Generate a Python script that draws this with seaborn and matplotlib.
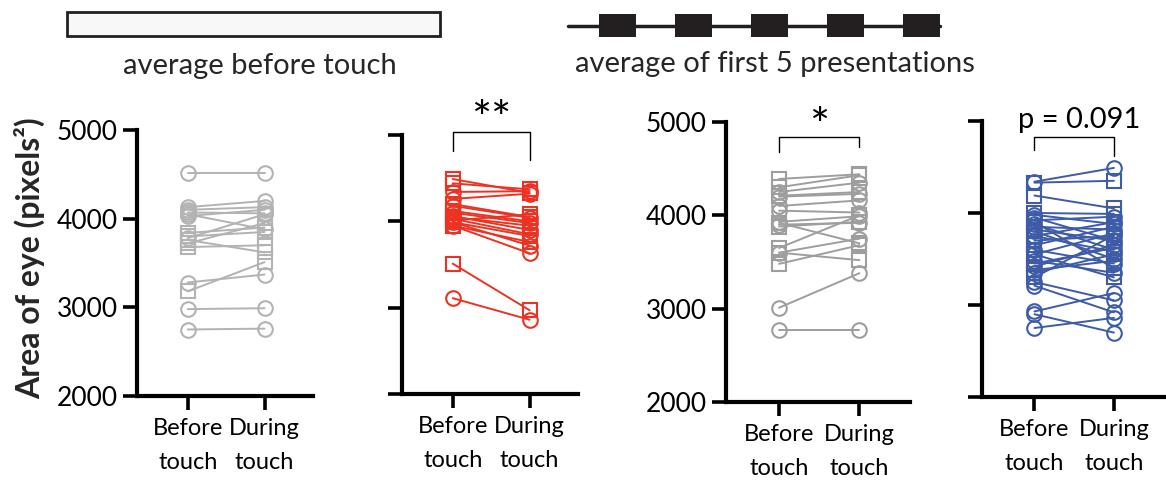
import numpy as np
import pandas as pd
import matplotlib
matplotlib.use("Agg")
import matplotlib.pyplot as plt
from matplotlib.patches import Rectangle
from matplotlib import font_manager
import seaborn as sns

sns.set_style("white")
plt.rcParams['font.family'] = ['Lato', 'DejaVu Sans']

installed = {f.name for f in font_manager.fontManager.ttflist}
narrow = 'Liberation Sans Narrow' in installed

# ---------------- data (before, during) ----------------
conditions = ["Before\ntouch", "During\ntouch"]
y_ticks = [2000, 3000, 4000, 5000]

p1_circle_before = [4510, 4130, 4100, 4070, 4050, 4030, 3780, 3280, 2980, 2750]
p1_circle_during = [4510, 4200, 4130, 4060, 3880, 4100, 4050, 3370, 2990, 2760]
p1_square_before = [3840, 3800, 3760, 3720, 3680, 3180]
p1_square_during = [3900, 3850, 3620, 3950, 3700, 3510]

p2_circle_before = [4340, 4260, 4180, 4100, 4060, 4030, 3990, 3950, 3110]
p2_circle_during = [4350, 4320, 4040, 3980, 3900, 3850, 3720, 3630, 2860]
p2_square_before = [4490, 4440, 4200, 4120, 4050, 3990, 3950, 4010, 3510]
p2_square_during = [4330, 4370, 4050, 4000, 3950, 3830, 3760, 4080, 2970]

p3_circle_before = [4250, 4200, 4100, 4050, 3930, 3900, 3600, 3010, 2770]
p3_circle_during = [4350, 4230, 4160, 4030, 3990, 3920, 3750, 3380, 2770]
p3_square_before = [4390, 4300, 4210, 3920, 3880, 3650, 3600, 3480]
p3_square_during = [4440, 4430, 4250, 3700, 3930, 4000, 3520, 3680]

p4_circle_before = [4340, 3980, 3950, 3920, 3880, 3850, 3800, 3750, 3700, 3600,
                    3550, 3480, 3420, 3350, 3250, 3210, 2930, 2900, 2750]
p4_circle_during = [4490, 3880, 3700, 3960, 3600, 3820, 3500, 3900, 3750, 3450,
                    3780, 3350, 3650, 3550, 3050, 2920, 3130, 2700, 2860]
p4_square_before = [4330, 4190, 4000, 3900, 3820, 3750, 3650, 3550, 3450, 3380, 3300]
p4_square_during = [4350, 4050, 3990, 3400, 3700, 3580, 3850, 3300, 3620, 3480, 3760]

panel_colors = ["#b3b3b3", "#ec3323", "#9e9e9e", "#3d5ba6"]
sig_labels = [None, "**", "*", "p = 0.091"]


def make_df(cb, cd, sb, sd):
    rows = []
    sid = 0
    for shape, b, d in (("circle", cb, cd), ("square", sb, sd)):
        for vb, vd in zip(b, d):
            rows.append((sid, shape, 0, vb))
            rows.append((sid, shape, 1, vd))
            sid += 1
    return pd.DataFrame(rows, columns=["subject", "shape", "cond", "area"])


dfs = [
    make_df(p1_circle_before, p1_circle_during, p1_square_before, p1_square_during),
    make_df(p2_circle_before, p2_circle_during, p2_square_before, p2_square_during),
    make_df(p3_circle_before, p3_circle_during, p3_square_before, p3_square_during),
    make_df(p4_circle_before, p4_circle_during, p4_square_before, p4_square_during),
]

# ---------------- layout (pixels) ----------------
W, H = 1166, 487
fig = plt.figure(figsize=(W / 100, H / 100), dpi=100)

# left, right, top(5000), bottom(2000)
boxes = [(137, 313, 130, 396), (402, 578, 135, 394), (726, 910, 122, 402), (982, 1164, 121, 397)]
show_labels = [True, False, True, False]
# bracket: top y, left leg end, right leg end, label x, label y
brackets = [None, (5035, 4815, 4710, 0.5, 4920), (4840, 4680, 4730, 0.5, 4710),
            (4830, 4685, 4620, 0.56, 4870)]
sig_sizes = [None, 34, 34, 21]

if narrow:
    xl_family, xl_size, xl_ls = ['Liberation Sans Narrow', 'Lato'], 19.5, 1.5
else:
    xl_family, xl_size, xl_ls = ['Lato', 'DejaVu Sans'], 17, 1.75

for i, (l, r, t, b) in enumerate(boxes):
    ax = fig.add_axes([l / W, (H - b) / H, (r - l) / W, (b - t) / H])
    df = dfs[i]
    col = panel_colors[i]
    sns.lineplot(data=df, x="cond", y="area", units="subject", estimator=None,
                 style="shape", markers={"circle": "o", "square": "s"},
                 dashes=False, color=col, lw=1.4, ms=10.5, mfc="none",
                 mec=col, mew=1.5, legend=False, ax=ax, sort=False)
    ax.set_xlim(-0.66, 1.63)
    ax.set_ylim(2000, 5000)
    ax.set_yticks(y_ticks)
    ax.set_xticks([0, 1])
    ax.set_xticklabels(conditions, fontsize=xl_size, linespacing=xl_ls,
                       family=xl_family)
    if show_labels[i]:
        ax.set_yticklabels([str(v) for v in y_ticks], fontsize=19)
    else:
        ax.set_yticklabels([])
    ax.set_xlabel("")
    ax.set_ylabel("")
    for s in ("top", "right"):
        ax.spines[s].set_visible(False)
    for s in ("left", "bottom"):
        ax.spines[s].set_linewidth(3)
        ax.spines[s].set_color("black")
    ax.tick_params(axis="both", direction="out", length=10, width=2.6,
                   color="black", labelcolor="black", pad=4,
                   left=True, bottom=True)
    ax.tick_params(axis="x", pad=6)
    ax.patch.set_alpha(0)
    if brackets[i] is not None:
        top, ll, rl, tx, ty = brackets[i]
        ax.plot([0, 0, 1, 1], [ll, top, top, rl], color="black", lw=1.0,
                clip_on=False)
        ax.text(tx, ty, sig_labels[i], ha="center", va="bottom",
                fontsize=sig_sizes[i], color="black", clip_on=False)

# y label
fig.text(30 / W, (H - 258) / H, "Area of eye (pixels²)", rotation=90,
         ha="center", va="center", fontsize=23, fontweight="bold")

# header graphics
hax = fig.add_axes([0, 0, 1, 1])
hax.set_xlim(0, W)
hax.set_ylim(H, 0)
hax.axis("off")
hax.add_patch(Rectangle((67, 12), 373, 24, fc="#f8f8f8", ec="#231f20", lw=2))
hax.text(260, 66, "average before touch", ha="center", va="center", fontsize=21)
hax.plot([568, 940], [26, 26], color="#231f20", lw=2.5)
for x0 in [599, 675, 751, 827, 903]:
    hax.add_patch(Rectangle((x0, 14), 37, 23, fc="#231f20", ec="none"))
hax.text(775, 64, "average of first 5 presentations", ha="center", va="center", fontsize=21)

fig.savefig("out.png", dpi=100, facecolor="white")
